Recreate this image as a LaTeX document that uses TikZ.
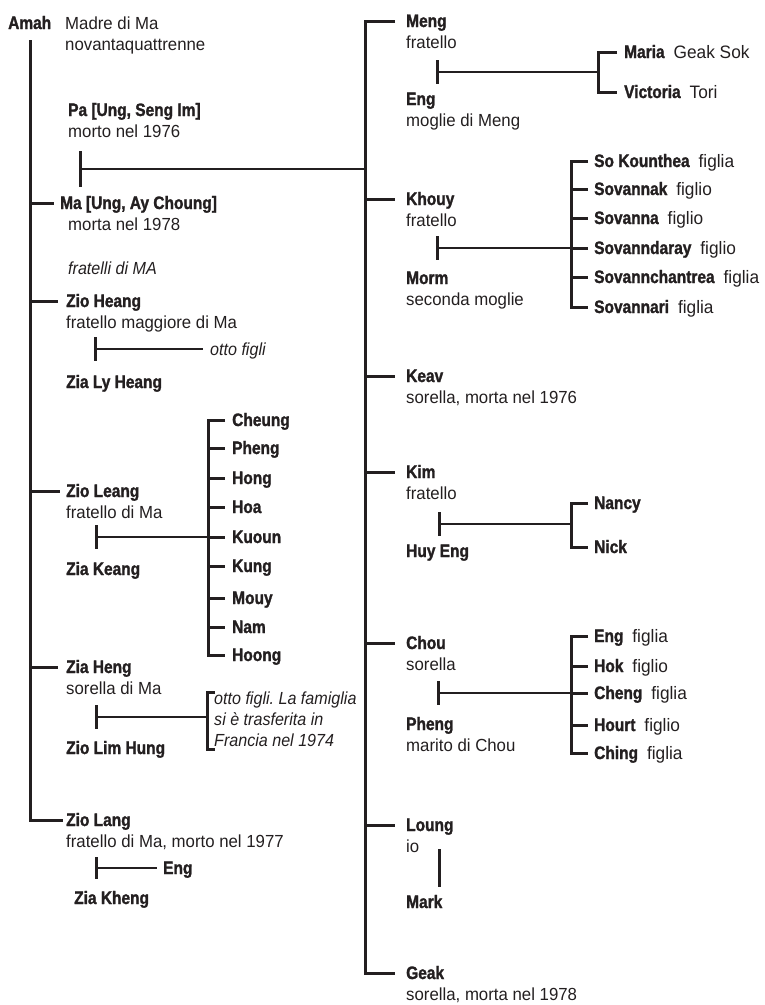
\documentclass[tikz,border=0pt]{standalone}
\usepackage{fontspec}
\setmainfont{Liberation Sans}[UprightFeatures={FakeStretch=0.96},
                              BoldFeatures={FakeStretch=0.86,FakeBold=1.5},
                              ItalicFeatures={FakeStretch=0.92}]
\usetikzlibrary{positioning}
\definecolor{ink}{RGB}{35,31,32}
\frenchspacing

\begin{document}
\begin{tikzpicture}[x=1pt,y=-1pt,
   every node/.style={inner sep=0pt, anchor=west, text=ink, text height=12pt, text depth=0pt,
                      font=\fontsize{17.5}{21}\selectfont},
   who/.style={font=\fontsize{18}{21}\selectfont\bfseries},
   info/.style={},
   aside/.style={font=\fontsize{17.5}{21}\selectfont\itshape},
   line/.style={draw=ink, line width=3pt},
   tie/.style={draw=ink, line width=2.2pt}]

   \useasboundingbox (0,0) rectangle (765,1005);

   % left side: Amah and her children
   \coordinate (lt) at (30,40) ;
   \node[who]  (amah)   at (8,23)    {Amah} ; %
   \node[info] (amahi)  at (65,23)   {Madre di Ma} ; %
   \node[info] (amahii) at ([yshift=-21pt]amahi.west) {novantaquattrenne} ; %

   \node[who]  (pa)     at (68,110)  {Pa [Ung, Seng Im]} ; %
   \node[info] (pai)    at ([yshift=-21pt]pa.west) {morto nel 1976} ; %
   \coordinate (pama)   at (80,169) ;

   \node[who]  (ma)     at (60,203)  {Ma [Ung, Ay Choung]} ; %
   \node[info] (mai)    at ([xshift=8pt,yshift=-21pt]ma.west) {morta nel 1978} ; %

   \node[aside] (fratelli) at (68,268) {fratelli di MA} ; %

   \node[who]  (zioheang)  at (66,301) {Zio Heang} ; %
   \node[info] (zioheangi) at ([yshift=-21pt]zioheang.west) {fratello maggiore di Ma} ; %
   \coordinate (heangc)    at (95,349) ;
   \node[aside] (ottofigli) at (210,349) {otto figli} ; %
   \node[who]  (zialy)     at (66,382) {Zia Ly Heang} ; %

   \node[who]  (zioleang)  at (66,491) {Zio Leang} ; %
   \node[info] (zioleangi) at ([yshift=-21pt]zioleang.west) {fratello di Ma} ; %
   \coordinate (leangc)    at (96,537) ;
   \coordinate (leangk)    at (208,537) ;
   \node[who]  (ziakeang)  at (66,569) {Zia Keang} ; %

   \node[who] (cheung) at (232,420) {Cheung} ; %
   \node[who] (phengl) at (232,448) {Pheng} ; %
   \node[who] (hong)   at (232,478) {Hong} ; %
   \node[who] (hoa)    at (232,507) {Hoa} ; %
   \node[who] (kuoun)  at (232,537) {Kuoun} ; %
   \node[who] (kung)   at (232,566) {Kung} ; %
   \node[who] (mouy)   at (232,598) {Mouy} ; %
   \node[who] (nam)    at (232,627) {Nam} ; %
   \node[who] (hoong)  at (232,655) {Hoong} ; %

   \node[who]  (ziaheng)  at (66,667) {Zia Heng} ; %
   \node[info] (ziahengi) at ([yshift=-21pt]ziaheng.west) {sorella di Ma} ; %
   \coordinate (hengc)    at (96,717) ;
   \coordinate (hengk)    at (207,717) ;
   \node[aside, align=left, anchor=north west, text height={}, text depth={}]
        (francia) at (214,692) {otto figli. La famiglia\\si è trasferita in\\Francia nel 1974} ; %
   \node[who]  (ziolim)   at (66,748) {Zio Lim Hung} ; %

   \node[who]  (ziolang)  at (66,820) {Zio Lang} ; %
   \node[info] (ziolangi) at ([yshift=-21pt]ziolang.west) {fratello di Ma, morto nel 1977} ; %
   \coordinate (langc)    at (96,868) ;
   \node[who]  (engl)     at (163,868) {Eng} ; %
   \node[who]  (ziakheng) at (74,898) {Zia Kheng} ; %

   % right side: children of Pa and Ma
   \coordinate (rt) at (365,500) ;

   \node[who]  (meng)   at (406,21)  {Meng} ; %
   \node[info] (mengi)  at ([yshift=-21pt]meng.west) {fratello} ; %
   \coordinate (mengc)  at (437,72) ;
   \coordinate (mengk)  at (598,72) ;
   \node[who]  (engm)   at (406,99)  {Eng} ; %
   \node[info] (engmi)  at ([yshift=-21pt]engm.west) {moglie di Meng} ; %
   \node[who]  (maria)  at (624,52)  {Maria\hspace{9pt}\mdseries Geak Sok} ; %
   \node[who]  (victoria) at (624,92) {Victoria\hspace{9pt}\mdseries Tori} ; %

   \node[who]  (khouy)  at (406,199) {Khouy} ; %
   \node[info] (khouyi) at ([yshift=-21pt]khouy.west) {fratello} ; %
   \coordinate (khouyc) at (437,248) ;
   \coordinate (khouyk) at (571,248) ;
   \node[who]  (morm)   at (406,278) {Morm} ; %
   \node[info] (mormi)  at ([yshift=-21pt]morm.west) {seconda moglie} ; %
   \node[who] (kounthea)  at (594,161) {So Kounthea\hspace{9pt}\mdseries figlia} ; %
   \node[who] (sovannak)  at (594,189) {Sovannak\hspace{9pt}\mdseries figlio} ; %
   \node[who] (sovanna)   at (594,218) {Sovanna\hspace{9pt}\mdseries figlio} ; %
   \node[who] (sovanndaray) at (594,248) {Sovanndaray\hspace{9pt}\mdseries figlio} ; %
   \node[who] (sovannchantrea) at (594,277) {Sovannchantrea\hspace{9pt}\mdseries figlia} ; %
   \node[who] (sovannari) at (594,307) {Sovannari\hspace{9pt}\mdseries figlia} ; %

   \node[who]  (keav)   at (406,376) {Keav} ; %
   \node[info] (keavi)  at ([yshift=-21pt]keav.west) {sorella, morta nel 1976} ; %

   \node[who]  (kim)    at (406,472) {Kim} ; %
   \node[info] (kimi)   at ([yshift=-21pt]kim.west) {fratello} ; %
   \coordinate (kimc)   at (439,524) ;
   \coordinate (kimk)   at (571,524) ;
   \node[who]  (huyeng) at (406,551) {Huy Eng} ; %
   \node[who]  (nancy)  at (594,503) {Nancy} ; %
   \node[who]  (nick)   at (594,547) {Nick} ; %

   \node[who]  (chou)   at (406,643) {Chou} ; %
   \node[info] (choui)  at ([yshift=-21pt]chou.west) {sorella} ; %
   \coordinate (chouc)  at (438,693) ;
   \coordinate (chouk)  at (571,693) ;
   \node[who]  (phengc) at (406,724) {Pheng} ; %
   \node[info] (phengci) at ([yshift=-21pt]phengc.west) {marito di Chou} ; %
   \node[who] (engc)    at (594,636) {Eng\hspace{9pt}\mdseries figlia} ; %
   \node[who] (hok)     at (594,666) {Hok\hspace{9pt}\mdseries figlio} ; %
   \node[who] (cheng)   at (594,693) {Cheng\hspace{9pt}\mdseries figlia} ; %
   \node[who] (hourt)   at (594,725) {Hourt\hspace{9pt}\mdseries figlio} ; %
   \node[who] (ching)   at (594,753) {Ching\hspace{9pt}\mdseries figlia} ; %

   \node[who]  (loung)  at (406,825) {Loung} ; %
   \node[info] (loungi) at ([yshift=-21pt]loung.west) {io} ; %
   \node[who]  (mark)   at (406,902) {Mark} ; %

   \node[who]  (geak)   at (406,973) {Geak} ; %
   \node[info] (geaki)  at ([yshift=-21pt]geak.west) {sorella, morta nel 1978} ; %

   % left trunk
   \draw[line] (lt) |- ([xshift=-3pt]ziolang.west) ;
   \draw[line] (lt |- ma.west) -- ([xshift=-6pt]ma.west) ;
   \draw[line] (lt |- zioheang.west) -- ([xshift=-8pt]zioheang.west) ;
   \draw[line] (lt |- zioleang.west) -- ([xshift=-6pt]zioleang.west) ;
   \draw[line] (lt |- ziaheng.west) -- ([xshift=-8pt]ziaheng.west) ;

   % Pa and Ma
   \draw[line] ([yshift=18pt]pama) -- ([yshift=-18pt]pama) ;
   \draw[tie] (pama) -- (rt |- pama) ;

   % Zio Heang
   \draw[line] ([yshift=12pt]heangc) -- ([yshift=-12pt]heangc) ;
   \draw[tie] (heangc) -- ([xshift=-7pt]ottofigli.west) ;

   % Zio Leang
   \draw[line] ([yshift=12pt]leangc) -- ([yshift=-12pt]leangc) ;
   \draw[tie] (leangc) -- (leangk) ;
   \draw[line] ([xshift=-7pt]cheung.west) -| (leangk) |- ([xshift=-7pt]hoong.west) ;
   \draw[line] (leangk |- phengl.west) -- ([xshift=-7pt]phengl.west) ;
   \draw[line] (leangk |- hong.west) -- ([xshift=-7pt]hong.west) ;
   \draw[line] (leangk |- hoa.west) -- ([xshift=-7pt]hoa.west) ;
   \draw[line] (leangk) -- ([xshift=-7pt]kuoun.west) ;
   \draw[line] (leangk |- kung.west) -- ([xshift=-7pt]kung.west) ;
   \draw[line] (leangk |- mouy.west) -- ([xshift=-7pt]mouy.west) ;
   \draw[line] (leangk |- nam.west) -- ([xshift=-7pt]nam.west) ;

   % Zia Heng
   \draw[line] ([yshift=12pt]hengc) -- ([yshift=-12pt]hengc) ;
   \draw[tie] (hengc) -- (hengk) ;
   \draw[line] ([xshift=8pt]hengk |- francia.north) -| (hengk)
               |- ([xshift=8pt,yshift=-2pt]hengk |- francia.south) ;

   % Zio Lang
   \draw[line] ([yshift=11pt]langc) -- ([yshift=-11pt]langc) ;
   \draw[tie] (langc) -- ([xshift=-6pt]engl.west) ;

   % right trunk
   \draw[line] ([xshift=-11pt]meng.west) -| (rt) |- ([xshift=-11pt]geak.west) ;
   \draw[line] (rt |- khouy.west) -- ([xshift=-11pt]khouy.west) ;
   \draw[line] (rt |- keav.west) -- ([xshift=-11pt]keav.west) ;
   \draw[line] (rt |- kim.west) -- ([xshift=-11pt]kim.west) ;
   \draw[line] (rt |- chou.west) -- ([xshift=-11pt]chou.west) ;
   \draw[line] (rt |- loung.west) -- ([xshift=-11pt]loung.west) ;

   % Meng
   \draw[line] ([yshift=12pt]mengc) -- ([yshift=-12pt]mengc) ;
   \draw[tie] (mengc) -- (mengk) ;
   \draw[line] ([xshift=-7pt]maria.west) -| (mengk) |- ([xshift=-7pt]victoria.west) ;

   % Khouy
   \draw[line] ([yshift=12pt]khouyc) -- ([yshift=-12pt]khouyc) ;
   \draw[tie] (khouyc) -- (khouyk) ;
   \draw[line] ([xshift=-6pt]kounthea.west) -| (khouyk) |- ([xshift=-6pt]sovannari.west) ;
   \draw[line] (khouyk |- sovannak.west) -- ([xshift=-6pt]sovannak.west) ;
   \draw[line] (khouyk |- sovanna.west) -- ([xshift=-6pt]sovanna.west) ;
   \draw[line] (khouyk) -- ([xshift=-6pt]sovanndaray.west) ;
   \draw[line] (khouyk |- sovannchantrea.west) -- ([xshift=-6pt]sovannchantrea.west) ;

   % Kim
   \draw[line] ([yshift=12pt]kimc) -- ([yshift=-12pt]kimc) ;
   \draw[tie] (kimc) -- (kimk) ;
   \draw[line] ([xshift=-6pt]nancy.west) -| (kimk) |- ([xshift=-6pt]nick.west) ;

   % Chou
   \draw[line] ([yshift=12pt]chouc) -- ([yshift=-12pt]chouc) ;
   \draw[tie] (chouc) -- (chouk) ;
   \draw[line] ([xshift=-6pt]engc.west) -| (chouk) |- ([xshift=-6pt]ching.west) ;
   \draw[line] (chouk |- hok.west) -- ([xshift=-6pt]hok.west) ;
   \draw[line] (chouk) -- ([xshift=-6pt]cheng.west) ;
   \draw[line] (chouk |- hourt.west) -- ([xshift=-6pt]hourt.west) ;

   % Loung
   \draw[line] ([xshift=33pt,yshift=-3pt]loungi.west) -- ([xshift=33pt,yshift=15pt]mark.west) ;

\end{tikzpicture}
\end{document}
